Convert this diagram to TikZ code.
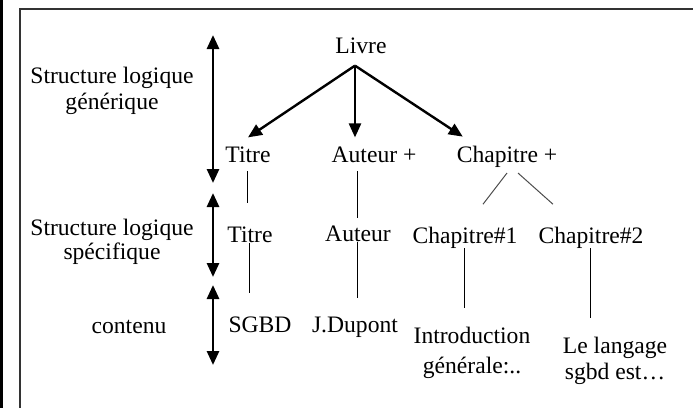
\documentclass[tikz,border=0pt]{standalone}
\usepackage{fontspec}
\setmainfont{Liberation Serif}
\usetikzlibrary{arrows.meta}

\begin{document}
\begin{tikzpicture}[x=0.5pt,y=-0.5pt,
    lbl/.style={inner sep=0pt,font=\fontsize{11.8}{13}\selectfont},
    gen/.style={lbl,anchor=base,outer xsep=0pt,outer ysep=4.5pt},
    bigarrow/.style={line width=1.2pt,-{Triangle[length=7pt,width=6pt]}},
    levelarrow/.style={line width=1.4pt,{Triangle[length=7pt,width=6pt]}-{Triangle[length=7pt,width=6pt]}},
    link/.style={line width=0.5pt},
    branch/.style={line width=0.5pt,black!70}]
    \useasboundingbox (0,0) rectangle (693,408);
    \draw[line width=1.35pt] (1.35,0) -- (1.35,408);
    \draw[line width=1pt,black!80] (20,408) -- (20,8.5) -- (693,8.5);

    \node[lbl,align=center] (generique) at (112,91) {Structure logique\\générique};
    \node[lbl,align=center,font=\fontsize{11.8}{12}\selectfont] (specifique) at (112,242) {Structure logique\\spécifique};
    \node[lbl,anchor=base] (contenu) at (129,333) {contenu};

    \coordinate (lv1a) at (213,35);
    \coordinate (lv1b) at (213,183);
    \coordinate (lv2a) at (213,193);
    \coordinate (lv2b) at (213,277);
    \coordinate (lv3a) at (213,285);
    \coordinate (lv3b) at (213,365);
    \draw[levelarrow] (lv1a) -- (lv1b);
    \draw[levelarrow] (lv2a) -- (lv2b);
    \draw[levelarrow] (lv3a) -- (lv3b);

    \node[lbl,anchor=base] (livre) at (361,53) {Livre};
    \coordinate (hub) at ([xshift=-3pt,yshift=-6pt]livre.south);
    \node[gen] (titreG) at (248,162) {Titre};
    \node[gen] (auteurG) at (374,162) {Auteur +};
    \node[gen] (chapG) at (507,162) {Chapitre +};

    \node[lbl,anchor=base] (titreS) at (250,242) {Titre};
    \node[lbl,anchor=base] (auteurS) at (358,241) {Auteur};
    \node[lbl,anchor=base] (chap1) at (465,243) {Chapitre\#1};
    \node[lbl,anchor=base] (chap2) at (591,243) {Chapitre\#2};

    \node[lbl,anchor=base] (sgbd) at (260,332) {SGBD};
    \node[lbl,anchor=base] (dupont) at (355,332) {J.Dupont};
    \node[lbl,align=center,font=\fontsize{11.8}{15}\selectfont] (intro) at (472,353) {Introduction\\générale:..};
    \node[lbl,align=center] (langage) at (615,361) {Le langage\\sgbd est…};

    \draw[bigarrow] (hub) -- (titreG.north);
    \draw[bigarrow] (hub) -- (hub |- auteurG.north);
    \draw[bigarrow] (hub) -- ([xshift=3pt]chapG.north west);

    \draw[link,shorten >=11.5pt] (titreG.south) -- (titreG.south |- titreS.north);
    \draw[link,shorten >=11.5pt] (titreS.south) -- (titreS.south |- sgbd.north);
    \draw[link,shorten >=3.5pt] (auteurS.north |- auteurG.south) -- (auteurS.north);
    \draw[link,shorten >=9pt] (auteurS.south) -- (auteurS.south |- dupont.north);
    \draw[branch] ([yshift=1.5pt]chapG.south) -- ([xshift=9pt,yshift=11pt]chap1.north);
    \draw[branch] ([xshift=5.5pt,yshift=1.5pt]chapG.south) -- ([xshift=-19pt,yshift=11pt]chap2.north);
    \draw[link,shorten >=9.5pt] (chap1.south) -- (chap1.south |- intro.north);
    \draw[link,shorten >=9.5pt] (chap2.south) -- (chap2.south |- langage.north);
\end{tikzpicture}
\end{document}
